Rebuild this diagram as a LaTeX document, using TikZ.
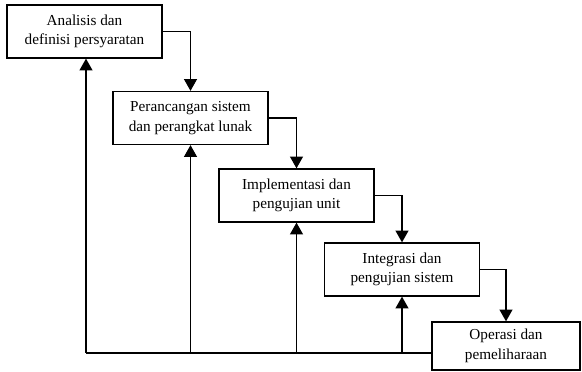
\documentclass[tikz,border=0pt]{standalone}
\usepackage{fontspec}
\setmainfont{Liberation Serif}
\usetikzlibrary{arrows.meta}

\begin{document}
\begin{tikzpicture}[
  x=0.03cm,y=-0.03cm,
  stage/.style={draw,line width=1.1pt,rectangle,minimum width=4.65cm,minimum height=1.59cm,
    align=center,font=\fontsize{13}{16.5}\selectfont,fill=white},
  flow/.style={draw,line width=1.1pt,-{Triangle[length=10pt,width=11pt]}},
  line/.style={draw,line width=1.1pt},
]
  \useasboundingbox (0,0) rectangle (582,372);

  % Stages
  \node[stage] (analisis) at (84.5,31.5) {Analisis dan\\definisi persyaratan};
  \node[stage] (perancangan) at (190.5,118) {Perancangan sistem\\dan perangkat lunak};
  \node[stage] (implementasi) at (296.5,195.5) {Implementasi dan\\pengujian unit};
  \node[stage] (integrasi) at (402,269.5) {Integrasi dan\\pengujian sistem};
  \node[stage,minimum width=4.44cm,minimum height=1.44cm] (operasi) at (506,346) {Operasi dan\\pemeliharaan};

  % Edges: forward
  \path[flow] (analisis.east) -| (perancangan.north);
  \path[flow] (perancangan.east) -| (implementasi.north);
  \path[flow] (implementasi.east) -| (integrasi.north);
  \path[flow] (integrasi.east) -| (operasi.north);

  % Edges: feedback
  \coordinate (kembali) at (86,353);
  \path[line] (operasi.west |- kembali) -- (kembali);
  \path[flow] (kembali) -- (analisis.south -| kembali);
  \path[flow] (perancangan.south |- kembali) -- (perancangan.south);
  \path[flow] (implementasi.south |- kembali) -- (implementasi.south);
  \path[flow] (integrasi.south |- kembali) -- (integrasi.south);
\end{tikzpicture}
\end{document}
